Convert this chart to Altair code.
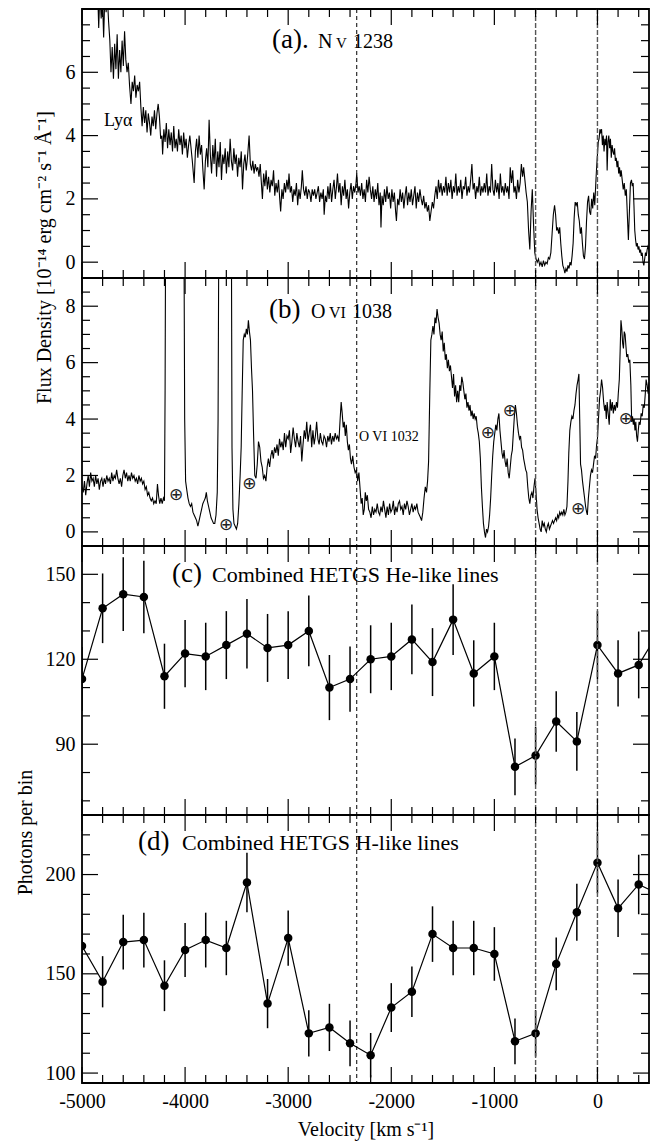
import altair as alt
import pandas as pd

SERIF = "Liberation Serif"
PANEL_W = 567
PANEL_H = [269, 268, 269, 268]
X_DOMAIN = [-5000, 500]

# ---------------------------------------------------------------- spectra
# (velocity km/s, flux 1e-14 erg/cm2/s/A)
nv_spectrum = [
    (-4850, 8.8), (-4838, 7.4), (-4826, 8.6), (-4814, 7.7), (-4802, 8.4), (-4790, 7.1),
    (-4778, 8.5), (-4766, 7.9), (-4754, 8.4), (-4742, 7.6), (-4730, 7.0), (-4719, 6.0),
    (-4707, 6.8), (-4695, 5.8), (-4683, 6.9), (-4671, 6.1), (-4659, 7.2), (-4647, 5.8),
    (-4635, 6.7), (-4623, 6.0), (-4611, 7.0), (-4599, 6.2), (-4587, 7.3), (-4575, 6.4),
    (-4563, 6.0), (-4551, 6.3), (-4539, 5.6), (-4525, 5.0), (-4513, 5.7), (-4501, 5.4),
    (-4489, 5.9), (-4477, 5.2), (-4465, 5.6), (-4453, 5.4), (-4441, 5.7), (-4429, 4.9),
    (-4417, 4.3), (-4405, 4.9), (-4393, 4.4), (-4381, 4.8), (-4369, 4.1), (-4357, 4.7),
    (-4345, 4.4), (-4333, 4.0), (-4321, 4.6), (-4309, 4.3), (-4297, 4.8), (-4285, 4.2),
    (-4273, 4.7), (-4261, 5.0), (-4249, 4.6), (-4237, 3.9), (-4225, 4.0), (-4218, 3.4),
    (-4206, 4.2), (-4194, 3.8), (-4182, 4.4), (-4170, 3.6), (-4158, 4.2), (-4146, 3.7),
    (-4134, 4.1), (-4122, 3.5), (-4110, 4.3), (-4098, 3.6), (-4086, 3.9), (-4074, 3.5),
    (-4062, 4.2), (-4050, 3.7), (-4038, 4.0), (-4026, 3.4), (-4014, 4.1), (-4002, 3.6),
    (-3990, 3.9), (-3978, 3.3), (-3966, 3.7), (-3954, 4.0), (-3942, 3.6), (-3930, 3.2),
    (-3912, 2.5), (-3900, 3.5), (-3888, 3.9), (-3876, 3.3), (-3864, 4.0), (-3852, 3.4),
    (-3840, 3.7), (-3827, 2.9), (-3815, 2.3), (-3803, 3.2), (-3791, 3.6), (-3779, 3.0),
    (-3767, 4.5), (-3755, 3.4), (-3743, 2.8), (-3731, 3.7), (-3719, 3.1), (-3707, 3.9),
    (-3695, 2.7), (-3683, 3.5), (-3671, 3.0), (-3659, 3.8), (-3647, 2.6), (-3635, 3.4),
    (-3623, 3.1), (-3611, 3.6), (-3599, 2.8), (-3587, 3.5), (-3575, 3.0), (-3563, 3.9),
    (-3551, 3.2), (-3539, 2.9), (-3527, 3.6), (-3515, 3.1), (-3503, 3.4), (-3491, 2.7),
    (-3479, 3.3), (-3467, 3.0), (-3455, 3.5), (-3443, 2.3), (-3431, 3.1), (-3419, 3.4),
    (-3407, 2.9), (-3395, 3.3), (-3379, 4.0), (-3367, 3.1), (-3355, 2.9), (-3343, 3.2),
    (-3331, 2.8), (-3319, 3.1), (-3307, 2.9), (-3295, 3.0), (-3283, 2.7), (-3271, 3.1),
    (-3262, 2.6), (-3250, 2.0), (-3238, 2.8), (-3226, 2.4), (-3214, 2.9), (-3202, 2.3),
    (-3190, 2.7), (-3178, 2.2), (-3166, 2.6), (-3154, 2.4), (-3142, 2.9), (-3130, 2.1),
    (-3118, 2.5), (-3106, 2.2), (-3094, 2.6), (-3082, 2.0), (-3073, 1.6), (-3061, 2.3),
    (-3049, 2.0), (-3037, 2.5), (-3025, 2.2), (-3013, 2.6), (-3001, 2.3), (-2992, 2.8),
    (-2980, 2.2), (-2968, 2.4), (-2956, 1.9), (-2944, 2.3), (-2932, 2.1), (-2920, 2.5),
    (-2908, 1.8), (-2896, 2.3), (-2884, 2.0), (-2872, 2.4), (-2863, 2.9), (-2851, 2.3),
    (-2839, 2.1), (-2827, 2.4), (-2815, 2.0), (-2803, 2.3), (-2791, 2.2), (-2779, 1.9),
    (-2767, 2.3), (-2755, 2.1), (-2743, 2.3), (-2731, 2.0), (-2719, 2.2), (-2707, 2.4),
    (-2695, 1.9), (-2683, 2.2), (-2671, 2.0), (-2659, 2.3), (-2651, 1.5), (-2639, 2.1),
    (-2627, 1.9), (-2615, 2.4), (-2603, 2.0), (-2591, 2.5), (-2579, 1.9), (-2567, 2.3),
    (-2555, 2.6), (-2543, 2.0), (-2531, 2.4), (-2522, 2.8), (-2510, 2.2), (-2498, 2.5),
    (-2486, 1.8), (-2474, 2.4), (-2462, 2.1), (-2450, 2.6), (-2438, 2.0), (-2426, 2.3),
    (-2414, 1.7), (-2402, 2.2), (-2390, 2.5), (-2378, 2.0), (-2366, 2.4), (-2354, 2.2),
    (-2342, 2.5), (-2335, 2.8), (-2323, 2.2), (-2311, 2.4), (-2299, 2.1), (-2287, 2.5),
    (-2275, 2.0), (-2263, 2.3), (-2251, 1.9), (-2239, 2.6), (-2227, 2.2), (-2215, 2.7),
    (-2203, 2.3), (-2191, 2.0), (-2179, 2.4), (-2167, 1.9), (-2155, 2.3), (-2143, 2.0),
    (-2131, 2.5), (-2119, 1.8), (-2107, 2.2), (-2100, 1.1), (-2090, 2.1), (-2078, 1.8),
    (-2066, 2.3), (-2054, 1.9), (-2042, 2.4), (-2030, 2.0), (-2018, 2.2), (-2006, 1.7),
    (-1994, 2.3), (-1982, 1.9), (-1970, 2.2), (-1958, 1.6), (-1950, 1.3), (-1938, 2.0),
    (-1926, 1.8), (-1914, 2.3), (-1902, 1.9), (-1890, 2.2), (-1878, 1.7), (-1866, 2.1),
    (-1854, 2.4), (-1842, 1.8), (-1830, 2.2), (-1818, 1.9), (-1806, 2.3), (-1794, 1.8),
    (-1782, 2.1), (-1770, 2.4), (-1758, 1.7), (-1746, 2.2), (-1734, 1.9), (-1722, 2.3),
    (-1710, 2.0), (-1698, 1.8), (-1686, 2.1), (-1674, 1.7), (-1662, 1.9), (-1650, 1.6),
    (-1638, 1.8), (-1626, 1.3), (-1614, 1.6), (-1602, 1.9), (-1590, 1.7), (-1578, 2.1),
    (-1566, 2.4), (-1554, 2.0), (-1542, 2.6), (-1530, 2.2), (-1518, 2.5), (-1506, 2.1),
    (-1494, 2.4), (-1482, 2.2), (-1470, 2.7), (-1458, 2.1), (-1446, 2.5), (-1434, 2.2),
    (-1422, 2.6), (-1410, 2.0), (-1398, 2.4), (-1386, 2.2), (-1374, 2.8), (-1362, 2.1),
    (-1350, 2.4), (-1338, 2.2), (-1326, 2.6), (-1314, 2.0), (-1302, 2.4), (-1290, 2.3),
    (-1278, 2.7), (-1266, 2.1), (-1254, 2.4), (-1242, 2.2), (-1230, 2.6), (-1218, 3.1),
    (-1206, 2.3), (-1194, 2.5), (-1182, 2.0), (-1170, 2.4), (-1158, 2.2), (-1146, 2.7),
    (-1134, 2.1), (-1122, 2.4), (-1110, 2.2), (-1098, 2.5), (-1086, 2.2), (-1074, 2.8),
    (-1062, 2.1), (-1050, 2.4), (-1038, 2.2), (-1026, 3.1), (-1014, 2.3), (-1002, 2.1),
    (-990, 2.6), (-978, 2.2), (-966, 2.5), (-954, 2.0), (-942, 2.8), (-930, 2.2),
    (-918, 2.4), (-906, 2.1), (-894, 2.5), (-882, 2.2), (-870, 2.4), (-858, 2.0),
    (-846, 3.0), (-834, 2.5), (-822, 2.9), (-810, 2.2), (-798, 2.4), (-786, 2.0),
    (-774, 2.6), (-762, 2.2), (-750, 2.5), (-738, 3.1), (-726, 2.7), (-716, 3.0),
    (-704, 2.6), (-692, 2.2), (-680, 1.9), (-668, 1.0), (-656, 0.4), (-644, 1.6),
    (-632, 2.3), (-620, 1.2), (-608, 0.3), (-596, 0.1), (-584, 0.0), (-572, 0.1),
    (-560, -0.1), (-548, 0.0), (-536, -0.15), (-524, 0.05), (-512, -0.1), (-500, 0.0),
    (-488, -0.05), (-476, 0.15), (-464, 0.1), (-452, 0.3), (-440, 0.9), (-428, 1.5),
    (-416, 1.8), (-406, 1.5), (-396, 1.0), (-386, 1.1), (-376, 0.9), (-366, 1.1),
    (-356, 0.6), (-346, 0.2), (-336, -0.1), (-326, -0.2), (-316, -0.35), (-306, -0.2),
    (-296, -0.3), (-286, -0.1), (-276, -0.2), (-266, 0.0), (-256, -0.1), (-246, 0.2),
    (-236, 0.6), (-226, 1.4), (-216, 1.9), (-206, 1.8), (-196, 1.9), (-186, 1.5),
    (-176, 1.3), (-166, 0.9), (-156, 1.1), (-146, 0.6), (-136, 0.2), (-126, 0.1),
    (-116, 0.5), (-106, 1.3), (-96, 1.9), (-86, 2.1), (-76, 1.6), (-66, 1.5),
    (-56, 2.0), (-46, 1.7), (-36, 2.2), (-26, 1.8), (-16, 2.5), (-8, 3.0),
    (0, 3.4), (8, 3.8), (16, 3.9), (24, 4.2), (32, 4.1), (40, 4.2),
    (48, 3.7), (56, 4.0), (64, 3.5), (72, 3.9), (80, 3.7), (88, 4.0),
    (94, 2.9), (102, 3.8), (110, 4.0), (118, 3.6), (126, 3.9), (134, 3.3),
    (142, 3.7), (150, 3.5), (158, 3.4), (166, 3.6), (174, 3.2), (182, 3.3),
    (190, 3.0), (198, 3.2), (206, 2.8), (214, 3.0), (222, 2.7), (230, 2.9),
    (240, 2.6), (250, 2.3), (260, 2.5), (270, 2.1), (280, 2.3), (290, 1.5),
    (300, 0.7), (310, 1.6), (320, 2.5), (330, 2.6), (338, 2.4), (346, 2.5),
    (354, 1.8), (362, 1.0), (370, 0.7), (378, 0.5), (386, 0.6), (394, 0.4),
    (402, 0.5), (410, 0.3), (418, 0.4), (426, 0.2), (434, 0.3), (442, 0.0),
    (450, -0.1), (458, 0.1), (466, 0.3), (474, 0.2), (482, 0.4), (490, 0.5),
    (500, 0.4),
]

ovi_spectrum = [
    (-5000, 1.6), (-4988, 1.4), (-4976, 1.8), (-4964, 1.3), (-4952, 1.7), (-4940, 2.0),
    (-4928, 1.6), (-4916, 2.1), (-4904, 1.8), (-4892, 1.9), (-4880, 1.6), (-4868, 2.0),
    (-4856, 1.7), (-4844, 1.9), (-4832, 1.5), (-4820, 1.8), (-4808, 1.9), (-4796, 1.6),
    (-4784, 1.9), (-4772, 1.7), (-4760, 2.0), (-4748, 1.8), (-4736, 1.9), (-4724, 1.7),
    (-4712, 2.1), (-4700, 1.8), (-4688, 2.0), (-4676, 1.9), (-4664, 2.2), (-4652, 1.9),
    (-4640, 1.7), (-4628, 1.9), (-4616, 1.6), (-4604, 2.0), (-4592, 2.2), (-4580, 1.9),
    (-4568, 2.1), (-4556, 1.8), (-4544, 2.0), (-4532, 1.8), (-4520, 2.1), (-4508, 1.9),
    (-4496, 2.0), (-4484, 1.8), (-4472, 1.9), (-4460, 1.7), (-4448, 2.0), (-4436, 1.8),
    (-4424, 1.9), (-4412, 1.7), (-4400, 1.8), (-4388, 1.5), (-4376, 1.6), (-4364, 1.3),
    (-4352, 1.4), (-4340, 1.2), (-4328, 1.1), (-4316, 1.2), (-4304, 1.0), (-4292, 1.1),
    (-4280, 1.0), (-4268, 1.7), (-4258, 1.3), (-4246, 1.0), (-4234, 1.2), (-4222, 1.0),
    (-4210, 1.2), (-4200, 1.1), (-4194, 5.0), (-4190, 9.6), (-4010, 9.6), (-4004, 4.0),
    (-3995, 1.8), (-3984, 1.5), (-3972, 1.2), (-3960, 1.0), (-3948, 0.9), (-3936, 1.0),
    (-3924, 0.7), (-3912, 0.6), (-3900, 0.5), (-3888, 0.4), (-3876, 0.2), (-3864, 0.4),
    (-3852, 0.6), (-3840, 0.8), (-3828, 1.0), (-3816, 1.1), (-3804, 1.2), (-3794, 1.4),
    (-3784, 1.1), (-3772, 0.9), (-3760, 0.7), (-3748, 0.5), (-3736, 0.4), (-3724, 0.3),
    (-3712, 0.3), (-3700, 0.6), (-3688, 1.4), (-3680, 4.0), (-3674, 9.6), (-3550, 9.6),
    (-3545, 3.0), (-3536, 0.8), (-3526, 0.3), (-3514, 0.2), (-3502, 0.1), (-3490, 0.3),
    (-3478, 1.0), (-3466, 2.0), (-3456, 3.0), (-3446, 5.0), (-3436, 6.8), (-3426, 7.0),
    (-3416, 6.9), (-3406, 7.2), (-3396, 7.0), (-3386, 7.5), (-3376, 7.1), (-3366, 6.8),
    (-3356, 5.8), (-3346, 5.0), (-3336, 3.5), (-3324, 2.0), (-3312, 1.9), (-3300, 2.4),
    (-3288, 3.2), (-3276, 3.0), (-3264, 2.5), (-3252, 2.3), (-3240, 1.9), (-3228, 2.0),
    (-3216, 1.8), (-3204, 2.3), (-3192, 2.6), (-3180, 2.3), (-3168, 2.7), (-3156, 2.9),
    (-3144, 2.6), (-3132, 3.0), (-3120, 2.8), (-3108, 3.1), (-3096, 2.7), (-3084, 3.3),
    (-3072, 3.0), (-3060, 3.2), (-3048, 2.9), (-3036, 3.5), (-3024, 3.0), (-3012, 3.4),
    (-3000, 3.3), (-2988, 3.6), (-2976, 2.8), (-2964, 3.2), (-2952, 3.7), (-2940, 3.3),
    (-2928, 3.0), (-2916, 3.5), (-2904, 3.2), (-2892, 3.0), (-2880, 3.4), (-2868, 2.5),
    (-2856, 3.1), (-2844, 3.6), (-2832, 3.3), (-2820, 3.9), (-2808, 3.2), (-2796, 3.5),
    (-2784, 3.8), (-2772, 3.0), (-2760, 3.6), (-2748, 3.1), (-2736, 3.4), (-2724, 3.9),
    (-2712, 3.3), (-2700, 3.1), (-2688, 3.5), (-2676, 3.2), (-2664, 3.1), (-2652, 3.4),
    (-2640, 3.3), (-2628, 3.0), (-2616, 3.4), (-2604, 3.2), (-2592, 3.5), (-2580, 3.1),
    (-2568, 3.4), (-2556, 3.2), (-2544, 3.5), (-2532, 3.3), (-2520, 3.4), (-2508, 3.2),
    (-2496, 4.0), (-2486, 4.6), (-2476, 4.2), (-2466, 3.7), (-2456, 3.9), (-2446, 3.4),
    (-2436, 3.8), (-2426, 3.2), (-2416, 2.9), (-2406, 3.1), (-2396, 2.6), (-2386, 2.4),
    (-2374, 2.7), (-2362, 2.3), (-2350, 2.1), (-2338, 2.2), (-2326, 1.8), (-2314, 2.1),
    (-2302, 1.5), (-2292, 1.0), (-2282, 1.2), (-2272, 0.6), (-2262, 0.8), (-2252, 1.4),
    (-2242, 1.1), (-2232, 1.3), (-2220, 0.8), (-2208, 0.7), (-2196, 0.5), (-2184, 0.9),
    (-2172, 0.6), (-2160, 0.8), (-2148, 0.7), (-2136, 1.0), (-2124, 0.7), (-2112, 0.6),
    (-2100, 0.9), (-2088, 0.7), (-2076, 1.1), (-2064, 0.8), (-2052, 0.5), (-2040, 0.9),
    (-2028, 0.6), (-2016, 1.0), (-2004, 0.7), (-1992, 0.8), (-1980, 1.1), (-1968, 0.6),
    (-1956, 0.9), (-1944, 0.7), (-1932, 1.0), (-1920, 1.1), (-1908, 0.8), (-1896, 0.9),
    (-1884, 0.6), (-1872, 1.0), (-1860, 0.8), (-1848, 1.1), (-1836, 0.9), (-1824, 0.6),
    (-1812, 0.8), (-1800, 1.0), (-1788, 0.7), (-1776, 0.9), (-1764, 0.8), (-1752, 1.0),
    (-1740, 0.7), (-1728, 0.6), (-1716, 0.5), (-1706, 0.4), (-1694, 0.7), (-1682, 1.2),
    (-1670, 1.6), (-1658, 1.4), (-1648, 1.8), (-1638, 2.5), (-1626, 5.0), (-1616, 6.8),
    (-1606, 7.0), (-1596, 7.3), (-1586, 7.0), (-1576, 7.6), (-1566, 7.4), (-1556, 7.9),
    (-1546, 7.6), (-1536, 7.4), (-1526, 7.0), (-1516, 6.8), (-1506, 7.1), (-1496, 6.4),
    (-1486, 6.7), (-1476, 6.1), (-1466, 6.3), (-1456, 5.8), (-1446, 6.1), (-1436, 5.7),
    (-1426, 5.9), (-1416, 5.5), (-1406, 5.1), (-1396, 5.6), (-1386, 4.8), (-1376, 5.2),
    (-1366, 4.6), (-1356, 5.0), (-1346, 4.6), (-1336, 5.2), (-1326, 5.0), (-1316, 5.5),
    (-1306, 5.3), (-1296, 5.0), (-1286, 4.7), (-1276, 4.9), (-1266, 4.4), (-1256, 4.6),
    (-1246, 4.3), (-1236, 4.5), (-1226, 4.1), (-1216, 4.3), (-1206, 4.0), (-1196, 4.2),
    (-1186, 4.0), (-1176, 4.1), (-1166, 3.7), (-1156, 3.5), (-1146, 3.2), (-1136, 2.6),
    (-1126, 1.6), (-1116, 0.9), (-1106, 0.3), (-1096, 0.0), (-1086, -0.2), (-1076, 0.1),
    (-1066, 0.0), (-1056, 0.2), (-1046, 0.6), (-1036, 1.2), (-1026, 2.0), (-1016, 2.7),
    (-1006, 3.2), (-996, 3.5), (-986, 3.8), (-976, 3.6), (-966, 4.0), (-956, 4.2),
    (-946, 3.6), (-936, 3.2), (-926, 2.8), (-916, 2.6), (-906, 2.9), (-896, 2.5),
    (-886, 2.3), (-876, 2.6), (-866, 2.1), (-856, 1.9), (-846, 2.3), (-836, 2.7),
    (-826, 2.9), (-816, 3.5), (-806, 4.1), (-796, 4.5), (-786, 4.2), (-776, 3.8),
    (-766, 3.5), (-756, 3.3), (-746, 3.4), (-736, 3.0), (-726, 2.9), (-716, 2.6),
    (-706, 2.4), (-696, 2.2), (-686, 2.1), (-676, 1.6), (-666, 1.2), (-656, 1.0),
    (-646, 1.3), (-636, 1.4), (-626, 1.2), (-616, 1.6), (-606, 1.9), (-596, 1.4),
    (-586, 0.8), (-576, 0.5), (-566, 0.3), (-556, 0.1), (-546, 0.0), (-536, 0.4),
    (-526, 0.2), (-516, 0.3), (-506, 0.1), (-496, 0.0), (-486, 0.2), (-476, 0.3),
    (-466, 0.1), (-456, 0.2), (-446, 0.3), (-436, 0.4), (-426, 0.3), (-416, 0.4),
    (-406, 0.5), (-396, 0.4), (-386, 0.6), (-376, 0.5), (-366, 0.7), (-356, 0.6),
    (-346, 0.7), (-336, 0.6), (-326, 0.8), (-316, 0.6), (-306, 0.7), (-296, 0.9),
    (-286, 1.8), (-278, 2.8), (-268, 3.6), (-258, 3.9), (-248, 4.1), (-238, 4.0),
    (-228, 4.3), (-218, 4.5), (-208, 4.9), (-198, 5.2), (-188, 5.4), (-180, 5.6),
    (-172, 4.0), (-164, 2.4), (-155, 2.2), (-145, 1.8), (-135, 1.5), (-125, 1.2),
    (-115, 0.9), (-105, 0.7), (-98, 0.6), (-88, 1.2), (-78, 1.6), (-68, 2.0),
    (-58, 2.2), (-48, 2.1), (-38, 2.4), (-28, 2.7), (-18, 2.6), (-8, 3.1),
    (0, 3.3), (10, 4.0), (20, 4.7), (30, 5.0), (40, 5.4), (50, 5.1),
    (60, 4.6), (70, 4.3), (78, 4.5), (86, 4.0), (94, 4.6), (104, 4.2),
    (114, 3.8), (124, 4.7), (134, 4.3), (144, 4.6), (154, 4.2), (164, 4.5),
    (174, 4.3), (184, 4.6), (194, 4.4), (202, 4.9), (212, 5.4), (220, 6.4),
    (228, 7.5), (236, 7.2), (244, 6.7), (252, 6.5), (260, 7.1), (268, 7.0),
    (276, 6.6), (284, 6.2), (294, 6.3), (304, 6.0), (314, 6.1), (324, 5.2),
    (332, 3.9), (340, 4.1), (348, 3.8), (356, 4.0), (364, 3.6), (372, 3.9),
    (380, 3.4), (388, 3.2), (396, 3.6), (404, 3.9), (414, 3.8), (424, 4.2),
    (434, 4.1), (444, 4.5), (454, 4.4), (464, 4.9), (472, 5.4), (482, 5.2),
    (492, 4.9), (500, 5.3),
]

# ---------------------------------------------------------------- HETGS bins
bin_velocity = [-5000, -4800, -4600, -4400, -4200, -4000, -3800, -3600, -3400, -3200,
                -3000, -2800, -2600, -2400, -2200, -2000, -1800, -1600, -1400, -1200,
                -1000, -800, -600, -400, -200, 0, 200, 400, 600]
he_counts = [113, 138, 143, 142, 114, 122, 121, 125, 129, 124,
             125, 130, 110, 113, 120, 121, 127, 119, 134, 115,
             121, 82, 86, 98, 91, 125, 115, 118, 130]
he_err = [11.3, 12.3, 13.0, 12.8, 11.5, 11.9, 11.9, 12.0, 12.3, 12.0,
          12.0, 12.5, 11.5, 11.5, 12.0, 11.9, 12.3, 12.0, 12.5, 11.7,
          11.9, 10.0, 10.2, 10.7, 10.4, 12.0, 11.7, 11.8, 12.3]
h_counts = [164, 146, 166, 167, 144, 162, 167, 163, 196, 135,
            168, 120, 123, 115, 109, 133, 141, 170, 163, 163,
            160, 116, 120, 155, 181, 206, 183, 195, 190]
h_err = [13.7, 12.9, 13.8, 13.8, 12.8, 13.6, 13.8, 13.7, 15.0, 12.4,
         13.9, 11.7, 11.9, 11.5, 11.2, 12.3, 12.7, 14.0, 13.7, 13.7,
         13.5, 11.5, 11.7, 13.3, 14.4, 15.4, 14.5, 15.0, 14.7]

# reference velocities (dashed lines)
ref_velocity = [-2335]
system_velocity = [-600, 0]

# telluric / airglow markers in the O VI panel
telluric_velocity = [-4088, -3602, -3377, -1062, -850, -187, 275]
telluric_flux = [1.3, 0.24, 1.7, 3.5, 4.3, 0.8, 4.0]

# tick positions
x_major = [-5000, -4000, -3000, -2000, -1000, 0]
x_minor = [-4800, -4600, -4400, -4200, -3800, -3600, -3400, -3200, -2800, -2600,
           -2400, -2200, -1800, -1600, -1400, -1200, -800, -600, -400, -200, 200, 400]
a_major = [0, 2, 4, 6]
a_minor = [0.5, 1, 1.5, 2.5, 3, 3.5, 4.5, 5, 5.5, 6.5, 7, 7.5]
b_major = [0, 2, 4, 6, 8]
b_minor = [0.5, 1, 1.5, 2.5, 3, 3.5, 4.5, 5, 5.5, 6.5, 7, 7.5, 8.5]
c_major = [90, 120, 150]
c_minor = [70, 80, 100, 110, 130, 140]
d_major = [100, 150, 200]
d_minor = [110, 120, 130, 140, 160, 170, 180, 190, 210, 220]

xscale = alt.Scale(domain=X_DOMAIN, nice=False, zero=False)


def xenc(field, show):
    # a layer that sets axis=None switches the shared axis off for the whole panel,
    # so the extra layers of the bottom panel leave the axis unspecified
    if show:
        return alt.X(field, scale=xscale)
    return alt.X(field, scale=xscale, axis=None)


def y_axis(values, title=None, title_x=0, title_y=0):
    kw = dict(values=values, ticks=False, tickSize=0, domain=False, grid=False,
              labelFont=SERIF, labelFontSize=20, labelPadding=7, labelColor="black",
              labelFlush=False, labelOverlap=False)
    if title:
        kw.update(title=title, titleFont=SERIF, titleFontSize=20, titleFontWeight="normal",
                  titleColor="black", titleX=title_x, titleY=title_y, titleAngle=270,
                  titleAlign="center", titleBaseline="middle")
    else:
        kw.update(title=None)
    return alt.Axis(**kw)


def frame_ticks(yscale, y_major, y_minor, h, show_x):
    """Inward-pointing ticks on all four sides of a panel."""
    layers = []
    for vals, size in ((x_major, 16), (x_minor, 8)):
        src = alt.Chart(pd.DataFrame({"t": vals})).mark_rule(color="black", strokeWidth=1.2)
        xe = xenc("t:Q", show_x)
        layers.append(src.encode(x=xe, y=alt.value(0), y2=alt.value(size)))
        layers.append(src.encode(x=xe, y=alt.value(h - size), y2=alt.value(h)))
    for vals, size in ((y_major, 16), (y_minor, 8)):
        src = alt.Chart(pd.DataFrame({"t": vals})).mark_rule(color="black", strokeWidth=1.2)
        ye = alt.Y("t:Q", scale=yscale)
        layers.append(src.encode(y=ye, x=alt.value(0), x2=alt.value(size)))
        layers.append(src.encode(y=ye, x=alt.value(PANEL_W - size), x2=alt.value(PANEL_W)))
    return layers


def velocity_markers(show_x):
    ref = alt.Chart(pd.DataFrame({"v": ref_velocity})).mark_rule(
        color="black", strokeWidth=1, strokeDash=[4, 3]).encode(x=xenc("v:Q", show_x))
    sysl = alt.Chart(pd.DataFrame({"v": system_velocity})).mark_rule(
        color="#555555", strokeWidth=1.4, strokeDash=[5, 2]).encode(x=xenc("v:Q", show_x))
    return [ref, sysl]


def note(text, x, y, size, font=SERIF):
    return alt.Chart().mark_text(
        text=text, font=font, fontSize=size, align="left", baseline="alphabetic", color="black"
    ).encode(x=alt.value(x), y=alt.value(y))


# ---------------------------------------------------------------- panel (a)
ya = alt.Scale(domain=[-0.5, 8], nice=False, zero=False)
nv_df = pd.DataFrame(nv_spectrum, columns=["v", "flux"])
line_a = alt.Chart(nv_df).mark_line(color="black", strokeWidth=1.1, clip=True).encode(
    x=xenc("v:Q", False),
    y=alt.Y("flux:Q", scale=ya,
            axis=y_axis(a_major, "Flux Density [10⁻¹⁴ erg cm⁻² s⁻¹ Å⁻¹]", -38, 248)),
)
panel_a = alt.layer(
    line_a, *velocity_markers(False), *frame_ticks(ya, a_major, a_minor, PANEL_H[0], False),
    note("(a).", 190, 39, 27), note("N", 236, 39, 20), note("V", 254, 39, 15),
    note("1238", 271, 39, 20), note("Lyα", 22, 117, 18),
).properties(width=PANEL_W, height=PANEL_H[0])

# ---------------------------------------------------------------- panel (b)
yb = alt.Scale(domain=[-0.5, 9], nice=False, zero=False)
ovi_df = pd.DataFrame(ovi_spectrum, columns=["v", "flux"])
line_b = alt.Chart(ovi_df).mark_line(color="black", strokeWidth=1.1, clip=True).encode(
    x=xenc("v:Q", False), y=alt.Y("flux:Q", scale=yb, axis=y_axis(b_major)),
)
tell_df = pd.DataFrame({"v": telluric_velocity, "flux": telluric_flux})
tell = alt.Chart(tell_df).mark_text(text="⊕", font="DejaVu Sans", fontSize=17, color="#222222").encode(
    x=xenc("v:Q", False), y=alt.Y("flux:Q", scale=yb),
)
panel_b = alt.layer(
    line_b, *velocity_markers(False), tell, *frame_ticks(yb, b_major, b_minor, PANEL_H[1], False),
    note("(b)", 187, 40, 27), note("O", 229, 40, 20), note("VI", 247, 40, 16),
    note("1038", 270, 40, 20), note("O VI 1032", 277, 163, 14),
).properties(width=PANEL_W, height=PANEL_H[1])


# ---------------------------------------------------------------- panels (c), (d)
def binned_panel(counts, errs, yscale, axis, show_x=False):
    df = pd.DataFrame({"v": bin_velocity, "n": counts, "err": errs})
    df["lo"] = df["n"] - df["err"]
    df["hi"] = df["n"] + df["err"]
    if show_x:
        xmain = alt.X("v:Q", scale=xscale, axis=alt.Axis(
            values=x_major, ticks=False, tickSize=0, domain=False, grid=False,
            labelFont=SERIF, labelFontSize=20, labelPadding=8, labelColor="black",
            labelFlush=False, labelOverlap=False,
            labelExpr="datum.value < 0 ? '-' + abs(datum.value) : '' + datum.value",
            title="Velocity [km s⁻¹]", titleFont=SERIF, titleFontSize=20,
            titleFontWeight="normal", titleColor="black", titlePadding=8))
    else:
        xmain = xenc("v:Q", False)
    base = alt.Chart(df)
    line = base.mark_line(color="black", strokeWidth=1.2, clip=True).encode(
        x=xmain, y=alt.Y("n:Q", scale=yscale, axis=axis))
    bars = base.mark_rule(color="black", strokeWidth=1.5, clip=True).encode(
        x=xenc("v:Q", show_x), y=alt.Y("lo:Q", scale=yscale), y2="hi:Q")
    dots = base.mark_circle(color="black", size=72, opacity=1, clip=True).encode(
        x=xenc("v:Q", show_x), y=alt.Y("n:Q", scale=yscale))
    return [line, bars, dots]


yc = alt.Scale(domain=[65, 160], nice=False, zero=False)
panel_c = alt.layer(
    *binned_panel(he_counts, he_err, yc, y_axis(c_major, "Photons per bin", -57, 286)),
    *velocity_markers(False),
    *frame_ticks(yc, c_major, c_minor, PANEL_H[2], False),
    note("(c)", 90, 36, 27), note("Combined HETGS He-like lines", 130, 36, 22),
).properties(width=PANEL_W, height=PANEL_H[2])

yd = alt.Scale(domain=[95, 230], nice=False, zero=False)
panel_d = alt.layer(
    *binned_panel(h_counts, h_err, yd, y_axis(d_major), show_x=True),
    *velocity_markers(True),
    *frame_ticks(yd, d_major, d_minor, PANEL_H[3], True),
    note("(d)", 56, 35, 27), note("Combined HETGS H-like lines", 100, 35, 22),
).properties(width=PANEL_W, height=PANEL_H[3])

chart = alt.vconcat(panel_a, panel_b, panel_c, panel_d, spacing=0).properties(
    padding={"left": 14, "top": 7, "right": 5, "bottom": 4},
    bounds="flush",
).configure(font=SERIF).configure_view(stroke="black", strokeWidth=1.8)

chart.save("out.html", embed_options={"renderer": "svg", "actions": False})
